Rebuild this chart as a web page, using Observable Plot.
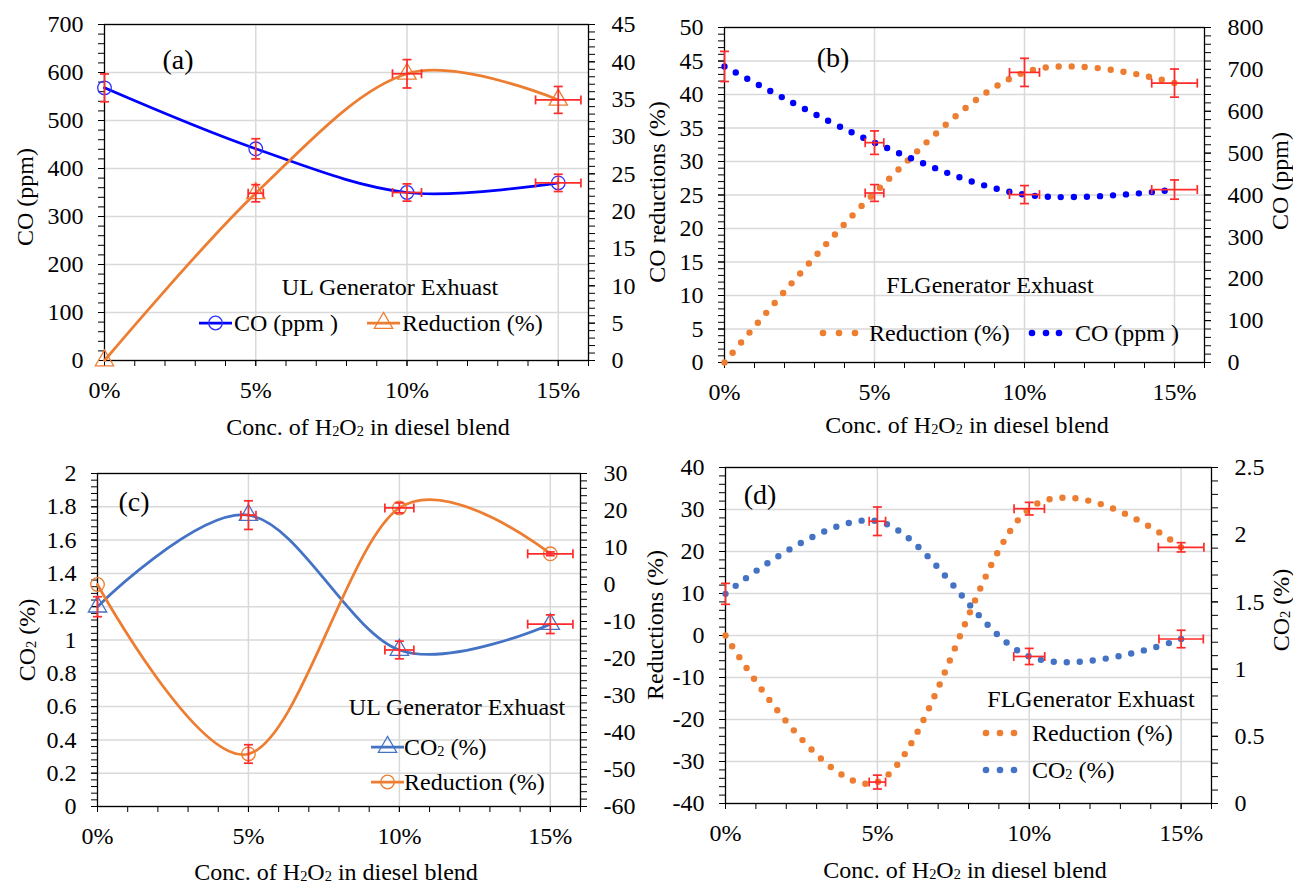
<!DOCTYPE html>
<html><head><meta charset="utf-8">
<script src="https://cdn.jsdelivr.net/npm/d3@7"></script>
<script src="https://cdn.jsdelivr.net/npm/@observablehq/plot@0.6"></script>
<style>
body{margin:0;background:#fff;}
#chart{position:relative;width:1293px;height:884px;font-family:"Liberation Serif","Times New Roman",serif;color:#000;overflow:hidden;background:#fff}
#chart svg.plotsvg{position:absolute}
.t{position:absolute;white-space:nowrap;font-size:24px;line-height:1;transform:translate(-50%,-50%)}
.t.rot{transform:translate(-50%,-50%) rotate(-90deg)}
.t.big{font-size:28px}
.sub{font-size:0.6em;position:relative;top:0.08em}
.leg{position:absolute;display:flex;align-items:center;white-space:nowrap;font-size:24px;line-height:1;transform:translateY(-50%)}
.leg svg{display:block;overflow:visible}
</style></head><body><div id="chart"></div><script>
// ---------------- data ----------------
const concentrations = [0, 5, 10, 15];          // % H2O2 in diesel blend
const xTickValues = [0, 5, 10, 15];
const xTickLabels = ["0%", "5%", "10%", "15%"];

// (a) UL generator – CO
const coUL = [568, 441, 350, 370];
const coUL_err = [29, 21, 18, 18];
const coUL_xerr = [0, 0, 0.48, 0.75];
const coRedUL = [0, 22.4, 38.4, 34.9];
const coRedUL_err = [0, 1.15, 1.9, 1.8];
const coRedUL_xerr = [0, 0.25, 0.48, 0.75];

// (b) FL generator – CO
const coFL = [707, 525, 401, 413];
const coFL_err = [36, 28, 21.5, 23];
const coFL_xerr = [0, 0.31, 0.5, 0.76];
const coRedFL = [0, 25.3, 43.3, 41.7];
const coRedFL_err = [0, 1.25, 2.1, 2.1];
const coRedFL_xerr = [0, 0.31, 0.5, 0.76];

// (c) UL generator – CO2
const co2UL = [1.2, 1.75, 0.94, 1.095];
const co2UL_err = [0.06, 0.086, 0.053, 0.056];
const co2UL_xerr = [0, 0.25, 0.48, 0.75];
const co2RedUL = [0, -45.8, 20.7, 8.3];
const co2RedUL_err = [0, 2.5, 1.35, 0.5];
const co2RedUL_xerr = [0, 0, 0.48, 0.75];

// (d) FL generator – CO2
const co2FL = [1.56, 2.1, 1.094, 1.224];
const co2FL_err = [0.078, 0.106, 0.06, 0.065];
const co2FL_xerr = [0, 0.27, 0.51, 0.73];
const co2RedFL = [0, -34.9, 30.2, 21];
const co2RedFL_err = [0, 1.65, 1.5, 1.1];
const co2RedFL_xerr = [0, 0.27, 0.5, 0.75];

// ---------------- helpers ----------------
const chart = document.getElementById("chart");
const RED = "#ff2a2a", ORANGE = "#ED7D31", BLUE = "#0000ff", STEEL = "#4472C4";
const fmt = d => String(+(+d).toFixed(2));
const hcap = {draw(ctx, size){const r = Math.sqrt(size/Math.PI); ctx.moveTo(-r,0); ctx.lineTo(r,0);}};
const vcap = {draw(ctx, size){const r = Math.sqrt(size/Math.PI); ctx.moveTo(0,-r); ctx.lineTo(0,r);}};
const steps = (a, b, s) => d3.range(0, Math.round((b - a) / s) + 1).map(i => +(a + i * s).toFixed(4));

function rows(values, err, xerr){
  return concentrations.map((c, i) => ({c, v: values[i], e: err[i], xe: xerr[i]}));
}
function errorBars(data){
  const ve = data.filter(d => d.e > 0), he = data.filter(d => d.xe > 0);
  const s = {stroke: RED, strokeWidth: 1.7};
  return [
    Plot.ruleX(ve, {x: "c", y1: d => d.v - d.e, y2: d => d.v + d.e, ...s}),
    Plot.dot(ve, {x: "c", y: d => d.v - d.e, symbol: hcap, r: 4.5, ...s}),
    Plot.dot(ve, {x: "c", y: d => d.v + d.e, symbol: hcap, r: 4.5, ...s}),
    Plot.ruleY(he, {y: "v", x1: d => d.c - d.xe, x2: d => d.c + d.xe, ...s}),
    Plot.dot(he, {x: d => d.c - d.xe, y: "v", symbol: vcap, r: 4.5, ...s}),
    Plot.dot(he, {x: d => d.c + d.xe, y: "v", symbol: vcap, r: 4.5, ...s})
  ];
}
function solidSeries(data, color, symbol, markerColor){
  return [
    Plot.line(data, {x: "c", y: "v", curve: "cardinal", stroke: color, strokeWidth: 2.75}),
    Plot.dot(data, {x: "c", y: "v", symbol, r: 6.8, stroke: markerColor, strokeWidth: 1.3, fill: "none"}),
    ...errorBars(data)
  ];
}
function dottedSeries(data, color){
  return [
    Plot.line(data, {x: "c", y: "v", curve: "cardinal", stroke: color, strokeWidth: 6.4,
      strokeDasharray: "0 13", strokeLinecap: "round"}),
    ...errorBars(data)
  ];
}

function panel(cfg){
  const base = {
    width: cfg.width, height: cfg.height,
    marginTop: cfg.mt, marginRight: cfg.mr, marginBottom: cfg.mb, marginLeft: cfg.ml,
    style: {fontFamily: '"Liberation Serif", "Times New Roman", serif', fontSize: "24px",
            color: "#000", background: "transparent", overflow: "visible"}
  };
  const grid = {stroke: "#d9d9d9", strokeOpacity: 1, strokeWidth: 1.5};
  const p1 = Plot.plot({
    ...base,
    x: {domain: [0, 16]},
    y: {domain: cfg.yDomain},
    marks: [
      Plot.gridY(cfg.yTicks, grid),
      Plot.gridX(xTickValues.filter(d => d > 0), grid),
      Plot.axisX(steps(0, 16, 1), {tickSize: 6, tickFormat: () => "", label: null}),
      Plot.axisX(xTickValues, {tickSize: 6, tickPadding: 14, label: null,
        tickFormat: d => xTickLabels[xTickValues.indexOf(d)]}),
      Plot.axisY(cfg.yMinor, {tickSize: 6, tickFormat: () => "", label: null}),
      Plot.axisY(cfg.yTicks, {tickSize: 6, tickPadding: 15, tickFormat: fmt, label: null}),
      Plot.frame({stroke: "#000", strokeWidth: 1.3}),
      ...cfg.marks1
    ]
  });
  const p2 = Plot.plot({
    ...base,
    x: {domain: [0, 16], axis: null},
    y: {domain: cfg.y2Domain},
    marks: [
      Plot.axisY(cfg.y2Minor, {anchor: "right", tickSize: 6, tickFormat: () => "", label: null}),
      Plot.axisY(cfg.y2Ticks, {anchor: "right", tickSize: 6, tickPadding: 17, tickFormat: fmt, label: null}),
      ...cfg.marks2
    ]
  });
  for (const p of [p1, p2]) {
    p.classList.add("plotsvg");
    p.style.position = "absolute";
    p.style.left = cfg.left + "px";
    p.style.top = cfg.top + "px";
    chart.append(p);
  }
}

// ---------------- panels ----------------
panel({left: 0, top: 0, width: 646, height: 420, mt: 24, mr: 58, mb: 60, ml: 104,
  yDomain: [0, 700], yTicks: steps(0, 700, 100), yMinor: steps(0, 700, 20),
  y2Domain: [0, 45], y2Ticks: steps(0, 45, 5), y2Minor: steps(0, 45, 1),
  marks1: solidSeries(rows(coUL, coUL_err, coUL_xerr), BLUE, "circle", "#3030ff"),
  marks2: solidSeries(rows(coRedUL, coRedUL_err, coRedUL_xerr), ORANGE, "triangle", ORANGE)});

panel({left: 646, top: 0, width: 647, height: 420, mt: 27, mr: 89, mb: 58, ml: 78,
  yDomain: [0, 50], yTicks: steps(0, 50, 5), yMinor: steps(0, 50, 1),
  y2Domain: [0, 800], y2Ticks: steps(0, 800, 100), y2Minor: steps(0, 800, 20),
  marks1: dottedSeries(rows(coRedFL, coRedFL_err, coRedFL_xerr), ORANGE),
  marks2: dottedSeries(rows(coFL, coFL_err, coFL_xerr), BLUE)});

panel({left: 0, top: 440, width: 646, height: 444, mt: 33, mr: 66, mb: 78, ml: 97,
  yDomain: [0, 2], yTicks: steps(0, 2, 0.2), yMinor: steps(0, 2, 0.04),
  y2Domain: [-60, 30], y2Ticks: steps(-60, 30, 10), y2Minor: steps(-60, 30, 2),
  marks1: solidSeries(rows(co2UL, co2UL_err, co2UL_xerr), STEEL, "triangle", STEEL),
  marks2: solidSeries(rows(co2RedUL, co2RedUL_err, co2RedUL_xerr), ORANGE, "circle", ORANGE)});

panel({left: 646, top: 440, width: 647, height: 444, mt: 27, mr: 82, mb: 81, ml: 79,
  yDomain: [-40, 40], yTicks: steps(-40, 40, 10), yMinor: steps(-40, 40, 2),
  y2Domain: [0, 2.5], y2Ticks: steps(0, 2.5, 0.5), y2Minor: steps(0, 2.5, 0.1),
  marks1: dottedSeries(rows(co2RedFL, co2RedFL_err, co2RedFL_xerr), ORANGE),
  marks2: dottedSeries(rows(co2FL, co2FL_err, co2FL_xerr), STEEL)});

// ---------------- texts ----------------
const XTITLE = 'Conc. of H<span class="sub">2</span>O<span class="sub">2</span> in diesel blend';
const CO2PCT = 'CO<span class="sub">2</span> (%)';
const texts = [
  {x: 368, y: 427, h: XTITLE}, {x: 967, y: 425, h: XTITLE},
  {x: 336, y: 872, h: XTITLE}, {x: 965, y: 870, h: XTITLE},
  {x: 25, y: 197, h: "CO (ppm)", c: "rot"},
  {x: 657, y: 192, h: "CO reductions (%)", c: "rot"},
  {x: 1280, y: 181, h: "CO (ppm)", c: "rot"},
  {x: 27, y: 640, h: CO2PCT, c: "rot"},
  {x: 655, y: 625, h: "Reductions (%)", c: "rot"},
  {x: 1281, y: 610, h: CO2PCT, c: "rot"},
  {x: 178, y: 60, h: "(a)", c: "big"}, {x: 833, y: 58, h: "(b)", c: "big"},
  {x: 134, y: 502, h: "(c)", c: "big"}, {x: 760, y: 495, h: "(d)", c: "big"},
  {x: 390, y: 287, h: "UL Generator Exhuast"}, {x: 990, y: 285, h: "FLGenerator Exhuast"},
  {x: 457, y: 707, h: "UL Generator Exhuast"}, {x: 1091, y: 699, h: "FLGenerator Exhuast"}
];
for (const t of texts) {
  const d = document.createElement("div");
  d.className = "t" + (t.c ? " " + t.c : "");
  d.style.left = t.x + "px"; d.style.top = t.y + "px";
  d.innerHTML = t.h;
  chart.append(d);
}

// ---------------- legends ----------------
function lineSample(color, symbol, markerColor){
  const w = 33, h = 20;
  const mk = symbol === "circle"
    ? `<circle cx="16.5" cy="10" r="6.8" fill="none" stroke="${markerColor}" stroke-width="1.3"/>`
    : `<path d="${d3.symbol(d3.symbolTriangle, Math.PI*6.8*6.8)()}" transform="translate(16.5,10)" fill="none" stroke="${markerColor}" stroke-width="1.3"/>`;
  return `<svg width="${w}" height="${h}"><line x1="0" x2="${w}" y1="10" y2="10" stroke="${color}" stroke-width="2.75"/>${mk}</svg>`;
}
function dotSample(color, w, xs){
  return `<svg width="${w}" height="20">${xs.map(x => `<circle cx="${x}" cy="10" r="3.3" fill="${color}"/>`).join("")}</svg>`;
}
const legends = [
  {x: 199, y: 323, s: lineSample(BLUE, "circle", "#3030ff"), t: "CO (ppm )", gap: 2},
  {x: 367, y: 323, s: lineSample(ORANGE, "triangle", ORANGE), t: "Reduction (%)", gap: 2},
  {x: 819, y: 333, s: dotSample(ORANGE, 50, [4, 20, 36]), t: "Reduction (%)", gap: 0},
  {x: 1028, y: 333, s: dotSample(BLUE, 47, [4, 18, 31]), t: "CO (ppm )", gap: 0},
  {x: 371, y: 747, s: lineSample(STEEL, "triangle", STEEL), t: CO2PCT, gap: 0},
  {x: 371, y: 782, s: lineSample(ORANGE, "circle", ORANGE), t: "Reduction (%)", gap: 0},
  {x: 982, y: 733, s: dotSample(ORANGE, 50, [4, 18, 32]), t: "Reduction (%)", gap: 0},
  {x: 982, y: 770, s: dotSample(STEEL, 50, [4, 18, 32]), t: CO2PCT, gap: 0}
];
for (const l of legends) {
  const d = document.createElement("div");
  d.className = "leg";
  d.style.left = l.x + "px"; d.style.top = l.y + "px";
  d.innerHTML = l.s + `<span style="margin-left:${l.gap}px">${l.t}</span>`;
  chart.append(d);
}
</script></body></html>
